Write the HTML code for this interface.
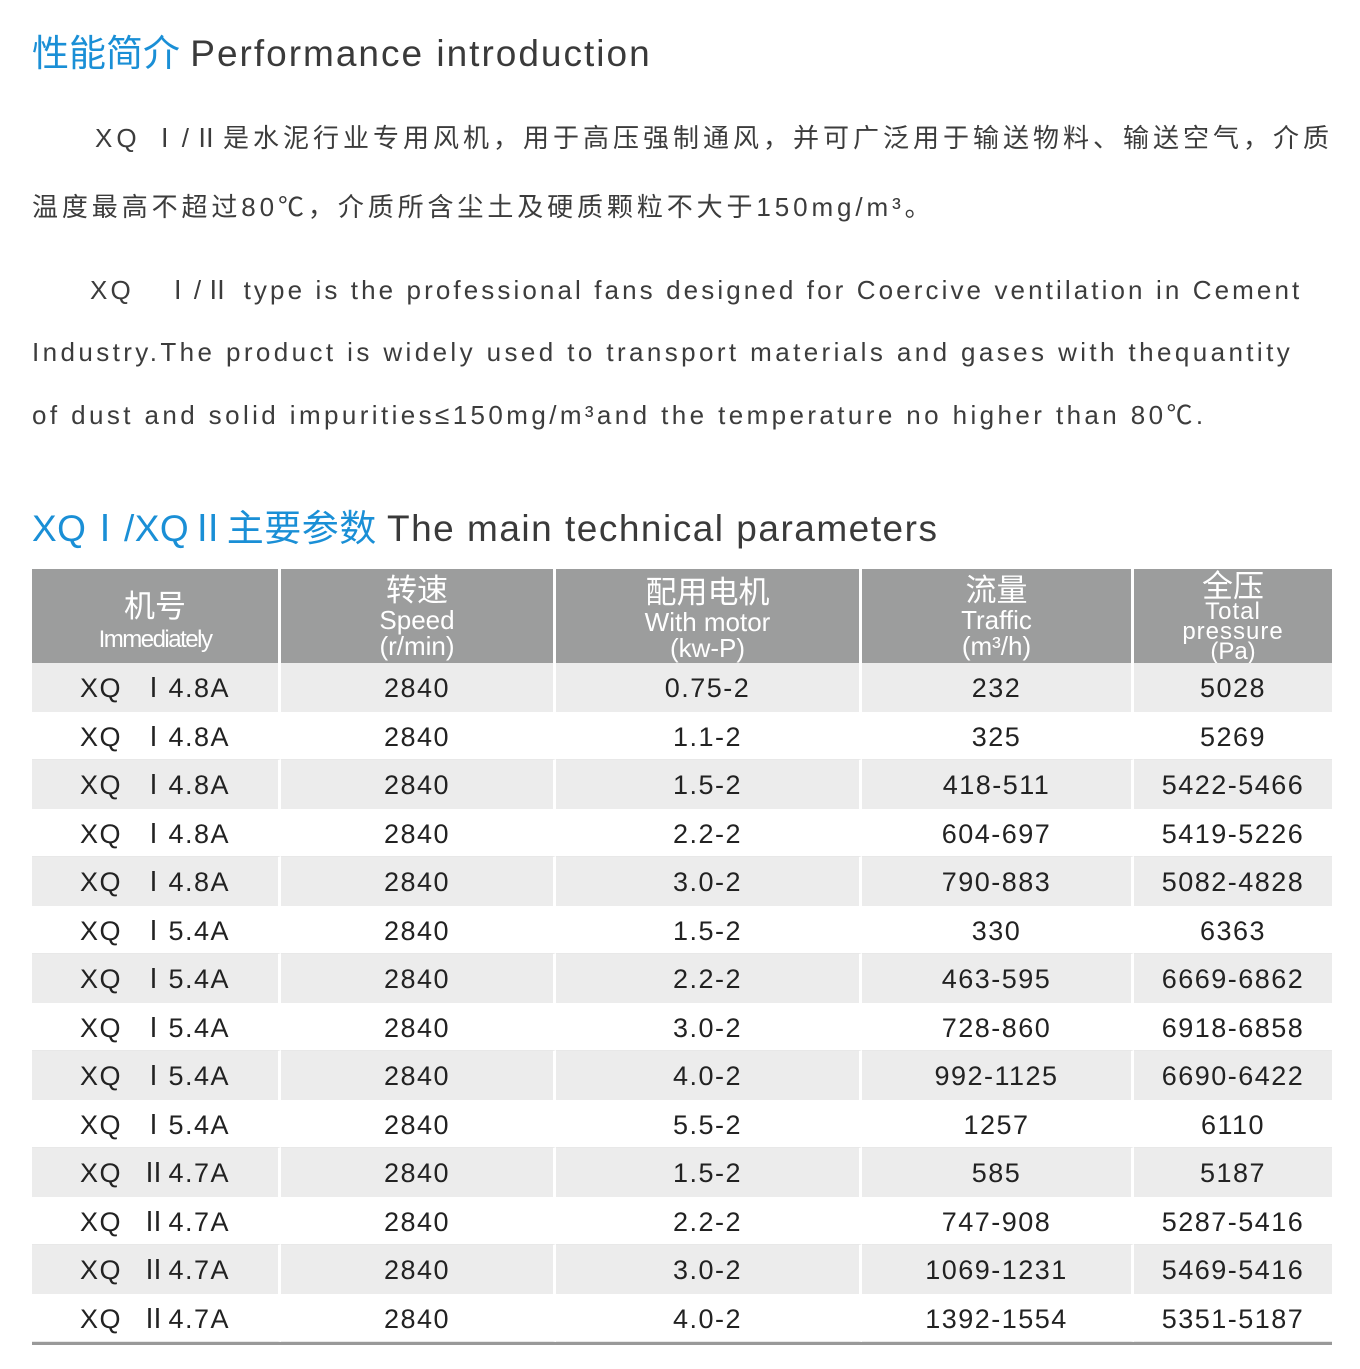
<!DOCTYPE html>
<html><head><meta charset="utf-8"><style>
body{margin:0;width:1360px;height:1369px;background:#fff;position:relative;overflow:hidden;font-family:"Liberation Sans","Noto Sans CJK SC",sans-serif;color:#3a3a3a}
.a{position:absolute;white-space:nowrap}
.t{font-size:37px;line-height:40px}
.b{color:#1a8fd6}
.p{font-size:26px;line-height:30px;color:#3c3c3c}
.r{position:absolute;left:32px;width:1300px;height:48.5px;display:flex}
.r div{height:100%;box-sizing:border-box;border-right:3px solid #fff;text-align:center;font-size:27px;line-height:50px;color:#222;letter-spacing:1.5px;white-space:nowrap}
.g div{background:#ececec}
.w div{border-bottom:1px solid #e8e8e8}
.h{position:absolute;top:569px;height:94px;background:#9c9d9d;color:#fff}
.h div{position:absolute;left:0;right:0;text-align:center;white-space:nowrap}
.c{font-size:31px;line-height:32px}
.e{font-size:26px;line-height:26px}
</style></head><body>
<div class="a t" style="left:32px;top:34px"><span class="b">性能简介</span> <span style="letter-spacing:2px">Performance introduction</span></div>
<div class="a p" style="left:95px;top:123px;letter-spacing:4px">XQ Ⅰ/Ⅱ是水泥行业专用风机，用于高压强制通风，并可广泛用于输送物料、输送空气，介质</div>
<div class="a p" style="left:32px;top:192px;letter-spacing:3.9px">温度最高不超过80℃，介质所含尘土及硬质颗粒不大于150mg/m³。</div>
<div class="a p" style="left:90px;top:275px;letter-spacing:3.1px">XQ &nbsp; Ⅰ/Ⅱ type is the professional fans designed for Coercive ventilation in Cement</div>
<div class="a p" style="left:32px;top:337px;letter-spacing:3.4px">Industry.The product is widely used to transport materials and gases with thequantity</div>
<div class="a p" style="left:32px;top:400px;letter-spacing:3.4px">of dust and solid impurities≤150mg/m³and the temperature no higher than 80℃.</div>
<div class="a t" style="left:32px;top:509px"><span class="b" style="letter-spacing:0.5px">XQⅠ/XQⅡ主要参数</span> <span style="letter-spacing:1.5px">The main technical parameters</span></div>

<div class="h" style="left:32px;width:246px"><div class="c" style="top:22px">机号</div><div class="e" style="top:58px;font-size:24px;letter-spacing:-1.5px">Immediately</div></div>
<div class="h" style="left:281px;width:272px"><div class="c" style="top:6px">转速</div><div class="e" style="top:38px">Speed</div><div class="e" style="top:64px">(r/min)</div></div>
<div class="h" style="left:556px;width:303px"><div class="c" style="top:8px">配用电机</div><div class="e" style="top:40px">With motor</div><div class="e" style="top:66px">(kw-P)</div></div>
<div class="h" style="left:862px;width:269px"><div class="c" style="top:6px">流量</div><div class="e" style="top:38px">Traffic</div><div class="e" style="top:64px">(m³/h)</div></div>
<div class="h" style="left:1134px;width:198px"><div class="c" style="top:2px">全压</div><div class="e" style="top:30px;font-size:24px;letter-spacing:1px">Total</div><div class="e" style="top:50px;font-size:24px;letter-spacing:1px">pressure</div><div class="e" style="top:70px;font-size:24px">(Pa)</div></div>

<div id="rows"></div>
<div class="r g" style="top:663px"><div style="width:249px">XQ &nbsp;Ⅰ4.8A</div><div style="width:275px">2840</div><div style="width:306px">0.75-2</div><div style="width:272px">232</div><div style="width:198px;border:0">5028</div></div>
<div class="r w" style="top:711.5px"><div style="width:249px">XQ &nbsp;Ⅰ4.8A</div><div style="width:275px">2840</div><div style="width:306px">1.1-2</div><div style="width:272px">325</div><div style="width:198px;border-right:0">5269</div></div>
<div class="r g" style="top:760px"><div style="width:249px">XQ &nbsp;Ⅰ4.8A</div><div style="width:275px">2840</div><div style="width:306px">1.5-2</div><div style="width:272px">418-511</div><div style="width:198px;border:0">5422-5466</div></div>
<div class="r w" style="top:808.5px"><div style="width:249px">XQ &nbsp;Ⅰ4.8A</div><div style="width:275px">2840</div><div style="width:306px">2.2-2</div><div style="width:272px">604-697</div><div style="width:198px;border-right:0">5419-5226</div></div>
<div class="r g" style="top:857px"><div style="width:249px">XQ &nbsp;Ⅰ4.8A</div><div style="width:275px">2840</div><div style="width:306px">3.0-2</div><div style="width:272px">790-883</div><div style="width:198px;border:0">5082-4828</div></div>
<div class="r w" style="top:905.5px"><div style="width:249px">XQ &nbsp;Ⅰ5.4A</div><div style="width:275px">2840</div><div style="width:306px">1.5-2</div><div style="width:272px">330</div><div style="width:198px;border-right:0">6363</div></div>
<div class="r g" style="top:954px"><div style="width:249px">XQ &nbsp;Ⅰ5.4A</div><div style="width:275px">2840</div><div style="width:306px">2.2-2</div><div style="width:272px">463-595</div><div style="width:198px;border:0">6669-6862</div></div>
<div class="r w" style="top:1002.5px"><div style="width:249px">XQ &nbsp;Ⅰ5.4A</div><div style="width:275px">2840</div><div style="width:306px">3.0-2</div><div style="width:272px">728-860</div><div style="width:198px;border-right:0">6918-6858</div></div>
<div class="r g" style="top:1051px"><div style="width:249px">XQ &nbsp;Ⅰ5.4A</div><div style="width:275px">2840</div><div style="width:306px">4.0-2</div><div style="width:272px">992-1125</div><div style="width:198px;border:0">6690-6422</div></div>
<div class="r w" style="top:1099.5px"><div style="width:249px">XQ &nbsp;Ⅰ5.4A</div><div style="width:275px">2840</div><div style="width:306px">5.5-2</div><div style="width:272px">1257</div><div style="width:198px;border-right:0">6110</div></div>
<div class="r g" style="top:1148px"><div style="width:249px">XQ &nbsp;Ⅱ4.7A</div><div style="width:275px">2840</div><div style="width:306px">1.5-2</div><div style="width:272px">585</div><div style="width:198px;border:0">5187</div></div>
<div class="r w" style="top:1196.5px"><div style="width:249px">XQ &nbsp;Ⅱ4.7A</div><div style="width:275px">2840</div><div style="width:306px">2.2-2</div><div style="width:272px">747-908</div><div style="width:198px;border-right:0">5287-5416</div></div>
<div class="r g" style="top:1245px"><div style="width:249px">XQ &nbsp;Ⅱ4.7A</div><div style="width:275px">2840</div><div style="width:306px">3.0-2</div><div style="width:272px">1069-1231</div><div style="width:198px;border:0">5469-5416</div></div>
<div class="r w" style="top:1293.5px"><div style="width:249px">XQ &nbsp;Ⅱ4.7A</div><div style="width:275px">2840</div><div style="width:306px">4.0-2</div><div style="width:272px">1392-1554</div><div style="width:198px;border-right:0">5351-5187</div></div>
<div class="a" style="left:32px;top:1342px;width:1300px;height:3px;background:#999"></div>
</body></html>
